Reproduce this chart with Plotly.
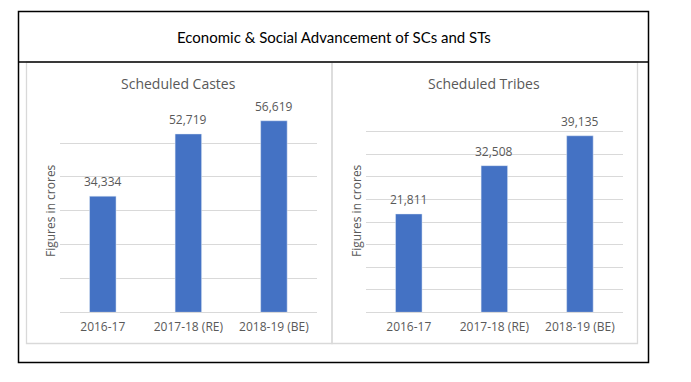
import plotly.graph_objects as go

W, H = 691, 382

categories = ["2016-17", "2017-18 (RE)", "2018-19 (BE)"]
sc_values = [34334, 52719, 56619]
st_values = [21811, 32508, 39135]
main_title = "Economic & Social Advancement of SCs and STs"
sc_title = "Scheduled Castes"
st_title = "Scheduled Tribes"
y_title = "Figures in crores"

BAR = "#4472C4"
TXT = "#595959"
GRID = "#D9D9D9"
FONT = "Open Sans"


def px(x):
    return x / W


def py(y):
    return 1 - y / H


fig = go.Figure()
fig.add_trace(go.Bar(x=categories, y=sc_values, marker_color=BAR, width=0.31,
                     xaxis="x", yaxis="y", showlegend=False, hoverinfo="skip"))
fig.add_trace(go.Bar(x=categories, y=st_values, marker_color=BAR, width=0.31,
                     xaxis="x2", yaxis="y2", showlegend=False, hoverinfo="skip"))

ann = []
for xa, ya, vals in (("x", "y", sc_values), ("x2", "y2", st_values)):
    for c, v in zip(categories, vals):
        ann.append(dict(x=c, y=v, xref=xa, yref=ya, text=f"{v:,}", showarrow=False,
                        yanchor="bottom", yshift=4, font=dict(family=FONT, size=12, color=TXT)))

ann.append(dict(x=px(333.5), y=py(37), xref="paper", yref="paper", text=main_title,
                showarrow=False, xanchor="center", yanchor="middle",
                font=dict(family="Lato", size=15, color="#000000")))
ann.append(dict(x=px(178), y=py(83), xref="paper", yref="paper", text=sc_title,
                showarrow=False, xanchor="center", yanchor="middle",
                font=dict(family=FONT, size=14, color=TXT)))
ann.append(dict(x=px(484), y=py(83), xref="paper", yref="paper", text=st_title,
                showarrow=False, xanchor="center", yanchor="middle",
                font=dict(family=FONT, size=14, color=TXT)))

shapes = [
    dict(type="rect", xref="paper", yref="paper", x0=px(26.5), x1=px(332), y0=py(343.5), y1=py(62),
         line=dict(color=GRID, width=1.3), layer="below"),
    dict(type="rect", xref="paper", yref="paper", x0=px(332), x1=px(637.5), y0=py(343.5), y1=py(62),
         line=dict(color=GRID, width=1.3), layer="below"),
    dict(type="rect", xref="paper", yref="paper", x0=px(18.5), x1=px(648.5), y0=py(362.5), y1=py(11.5),
         line=dict(color="#000000", width=1.5)),
    dict(type="line", xref="paper", yref="paper", x0=px(18.5), x1=px(648.5), y0=py(62), y1=py(62),
         line=dict(color="#000000", width=1.5)),
]

xcommon = dict(showgrid=False, showline=True, linecolor=GRID, linewidth=1, ticks="",
               ticklabelstandoff=3,
               tickfont=dict(family=FONT, size=12, color=TXT), fixedrange=True)
ycommon = dict(showgrid=True, gridcolor=GRID, gridwidth=1, zeroline=False, showticklabels=False,
               ticks="", showline=False, fixedrange=True,
               title=dict(text=y_title, font=dict(family=FONT, size=12, color=TXT), standoff=0))

fig.update_layout(
    width=W, height=H, margin=dict(l=0, r=0, t=0, b=0),
    paper_bgcolor="white", plot_bgcolor="white",
    xaxis=dict(domain=[px(60), px(316.7)], anchor="y", **xcommon),
    yaxis=dict(domain=[py(312.3), py(109.3)], anchor="x", range=[0, 60000], dtick=10000, **ycommon),
    xaxis2=dict(domain=[px(366), px(622.7)], anchor="y2", **xcommon),
    yaxis2=dict(domain=[py(312.3), py(109.3)], anchor="x2", range=[0, 45000], dtick=5000, **ycommon),
    annotations=ann, shapes=shapes,
)

fig.write_html("out.html", config={"displayModeBar": False},
               post_script="document.body.style.margin='0';document.body.style.overflow='hidden';")
